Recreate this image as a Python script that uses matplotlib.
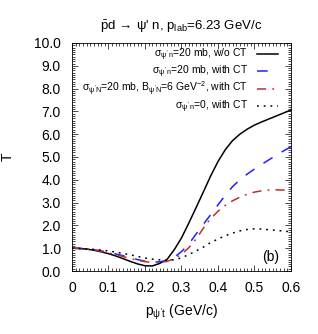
import matplotlib
matplotlib.use("Agg")
from matplotlib import pyplot as plt
from matplotlib.ticker import MultipleLocator
import numpy as np

plt.rcParams["font.family"] = ["Liberation Sans", "DejaVu Sans"]
plt.rcParams["mathtext.fontset"] = "custom"
plt.rcParams["mathtext.rm"] = "Liberation Sans"
plt.rcParams["mathtext.it"] = "Liberation Sans"
plt.rcParams["mathtext.bf"] = "Liberation Sans:bold"

# data
pt = [0.00, 0.02, 0.04, 0.06, 0.08, 0.10, 0.12, 0.14, 0.16, 0.18, 0.20,
      0.22, 0.24, 0.26, 0.28, 0.30, 0.32, 0.34, 0.36, 0.38, 0.40,
      0.42, 0.44, 0.46, 0.48, 0.50, 0.52, 0.54, 0.56, 0.58, 0.60]

t_noct = [1.00, 0.99, 0.96, 0.91, 0.84, 0.76, 0.66, 0.54, 0.42, 0.31, 0.23,
          0.22, 0.33, 0.50, 0.93, 1.45, 2.10, 2.78, 3.47, 4.17, 4.80,
          5.32, 5.72, 6.00, 6.22, 6.40, 6.54, 6.67, 6.80, 6.93, 7.06]

t_ct = [1.00, 0.99, 0.97, 0.93, 0.88, 0.82, 0.75, 0.67, 0.58, 0.50, 0.43,
        0.39, 0.40, 0.46, 0.60, 0.85, 1.18, 1.62, 2.05, 2.47, 2.90,
        3.32, 3.70, 4.00, 4.25, 4.47, 4.68, 4.88, 5.08, 5.27, 5.45]

t_ct_b = [1.00, 0.99, 0.97, 0.93, 0.87, 0.80, 0.72, 0.63, 0.55, 0.47, 0.41,
          0.38, 0.38, 0.42, 0.54, 0.73, 1.02, 1.40, 1.88, 2.30, 2.62,
          2.88, 3.08, 3.24, 3.37, 3.46, 3.52, 3.55, 3.56, 3.55, 3.53]

t_ct_0 = [1.00, 0.99, 0.97, 0.95, 0.92, 0.88, 0.83, 0.77, 0.71, 0.64, 0.57,
          0.52, 0.49, 0.47, 0.49, 0.58, 0.72, 0.88, 1.05, 1.25, 1.40,
          1.55, 1.66, 1.76, 1.82, 1.85, 1.84, 1.81, 1.78, 1.75, 1.72]

labels = [r"$\sigma_{\psi'\,n}$=20 mb, w/o CT",
          r"$\sigma_{\psi'\,n}$=20 mb, with CT",
          r"$\sigma_{\psi'N}$=20 mb, B$_{\psi'N}$=6 GeV$^{-2}$, with CT",
          r"$\sigma_{\psi'\,n}$=0, with CT"]

fig = plt.figure(figsize=(3.18, 3.34), dpi=100)
ax = fig.add_axes([0.2264, 0.1886, 0.6886, 0.6827])

ax.plot(pt, t_noct, "k-", lw=1.1, label=labels[0])
ax.plot(pt, t_ct, color="#1f1fff", lw=1.1, dashes=(7, 7), label=labels[1])
ax.plot(pt, t_ct_b, color="#b83030", lw=1.1, dashes=(6, 4, 1.2, 4), label=labels[2])
ax.plot(pt, t_ct_0, "k", lw=1.1, dashes=(1.2, 3.2), label=labels[3])

ax.set_xlim(0, 0.6)
ax.set_ylim(0, 10)
ax.xaxis.set_major_locator(MultipleLocator(0.1))
ax.xaxis.set_minor_locator(MultipleLocator(0.01))
ax.yaxis.set_major_locator(MultipleLocator(1.0))
ax.yaxis.set_minor_locator(MultipleLocator(0.1))
ax.xaxis.set_major_formatter(lambda v, p: "0" if abs(v) < 1e-9 else f"{v:.1f}")
ax.yaxis.set_major_formatter(lambda v, p: f"{v:.1f}")
ax.tick_params(which="both", direction="in", top=True, right=True,
               labelsize=10, width=0.5)
ax.tick_params(which="major", length=4)
ax.tick_params(which="minor", length=2)
ax.tick_params(axis="x", which="major", pad=7)
ax.tick_params(axis="y", which="major", pad=8)
for s in ax.spines.values():
    s.set_linewidth(0.6)

ax.set_title(r"$\bar{\rm p}$d$\,\rightarrow\,\psi$' n, p$_{\rm lab}$=6.23 GeV/c",
             fontsize=9.5, pad=9)
ax.set_xlabel(r"p$_{\psi' {\rm t}}$ (GeV/c)", fontsize=10, labelpad=6)
ax.set_ylabel("T", fontsize=10, rotation=90)
ax.yaxis.set_label_coords(-0.26, 0.5)

ax.legend(loc="upper right", frameon=False, markerfirst=False, fontsize=7.5,
          handlelength=2.0, handletextpad=0.9, labelspacing=0.02,
          borderaxespad=0.2, bbox_to_anchor=(0.97, 1.01))

ax.text(0.543, 0.6, "(b)", fontsize=10, ha="center", va="center")

fig.savefig("out.png", dpi=100)
